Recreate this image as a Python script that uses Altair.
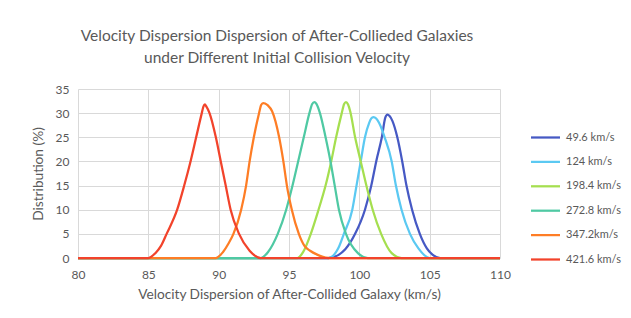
import altair as alt
import pandas as pd

series_names = ["49.6 km/s", "124 km/s", "198.4 km/s", "272.8 km/s", "347.2km/s", "421.6 km/s"]
series_colors = ["#4659c4", "#5bc9f2", "#a5df4f", "#4fc9a3", "#fe7d25", "#f2432b"]

x_496 = [80, 97.8, 98.5, 99.0, 99.7, 100.4, 100.85, 101.2, 101.6, 101.85, 102.0, 102.15, 102.35, 102.7, 103.05, 103.35, 103.75, 104.3, 104.8, 105.2, 105.75, 110]
y_496 = [0, 0, 0.6, 1.8, 5, 10, 15, 20, 25, 29.1, 29.7, 29.4, 28.4, 25, 20, 15, 10, 5, 2, 0.7, 0, 0]

x_124 = [80, 97.8, 98.5, 98.9, 99.5, 99.8, 100.1, 100.4, 100.7, 100.85, 101.0, 101.2, 101.4, 101.8, 102.3, 102.6, 103.0, 103.6, 104.2, 105.0, 110]
y_124 = [0, 0, 2, 5, 10, 15, 20, 25, 28.0, 28.9, 29.2, 28.9, 28.0, 25, 20, 15, 10, 5, 2, 0, 0]

x_1984 = [80, 95.6, 96.0, 96.55, 97.1, 97.6, 98.0, 98.35, 98.75, 98.92, 99.05, 99.2, 99.35, 99.7, 100.1, 100.5, 100.95, 101.55, 102.3, 103.0, 110]
y_1984 = [0, 0, 1.2, 5, 10, 15, 20, 25, 30, 31.9, 32.3, 31.8, 30.4, 25, 20, 15, 10, 5, 1, 0, 0]

x_2728 = [80, 93.0, 93.5, 94.2, 94.8, 95.25, 95.65, 96.05, 96.45, 96.65, 96.8, 96.95, 97.2, 97.6, 97.95, 98.25, 98.55, 99.05, 99.9, 100.6, 110]
y_2728 = [0, 0, 1.2, 5, 10, 15, 20, 25, 30, 31.9, 32.3, 31.9, 30, 25, 20, 15, 10, 5, 1, 0, 0]

x_3472 = [80, 89.8, 90.3, 90.7, 91.05, 91.6, 91.95, 92.2, 92.5, 92.87, 93.02, 93.16, 93.3, 93.5, 93.8, 94.3, 94.6, 94.85, 95.2, 95.7, 96.1, 96.5, 97.0, 97.6, 98.0, 110]
y_3472 = [0, 0, 1.2, 3, 5, 10, 15, 20, 25, 30, 31.7, 32.1, 32.0, 31.6, 30.4, 25, 20, 15, 10, 5, 2.5, 1.5, 0.7, 0.1, 0, 0]

x_4216 = [80, 85.0, 85.5, 85.9, 86.3, 87.05, 87.55, 88.0, 88.4, 88.8, 88.92, 89.02, 89.12, 89.35, 89.8, 90.15, 90.5, 90.85, 91.45, 92.2, 93.0, 110]
y_4216 = [0, 0, 1, 2.5, 5, 10, 15, 20, 25, 30, 31.4, 31.8, 31.4, 30, 25, 20, 15, 10, 5, 1.5, 0, 0]

all_x = [x_496, x_124, x_1984, x_2728, x_3472, x_4216]
all_y = [y_496, y_124, y_1984, y_2728, y_3472, y_4216]

rows = []
for i, (name, xs, ys) in enumerate(zip(series_names, all_x, all_y)):
    for j, (xv, yv) in enumerate(zip(xs, ys)):
        rows.append({"series": name, "order": i, "idx": j, "x": xv, "y": yv})
df = pd.DataFrame(rows)

x_ticks = [80, 85, 90, 95, 100, 105, 110]
y_ticks = [0, 5, 10, 15, 20, 25, 30, 35]

FONT = "Lato"
GRAY = "#595959"

chart = alt.Chart(df).mark_line(strokeWidth=2.25, interpolate="monotone").encode(
    x=alt.X("x:Q", scale=alt.Scale(domain=[80, 110], nice=False, zero=False),
            axis=alt.Axis(values=x_ticks, title="Velocity Dispersion of After-Collided Galaxy (km/s)",
                          ticks=False, domain=False, labelPadding=11, titlePadding=7,
                          gridColor="#d9d9d9", labelFlush=False)),
    y=alt.Y("y:Q", scale=alt.Scale(domain=[0, 35], nice=False),
            axis=alt.Axis(values=y_ticks, title="Distribution (%)", ticks=False, domain=False,
                          labelPadding=9, titlePadding=10, gridColor="#d9d9d9")),
    color=alt.Color("series:N", scale=alt.Scale(domain=series_names, range=series_colors),
                    legend=alt.Legend(title=None, orient="none", legendX=459, legendY=40,
                                      symbolType="M-2,0L2,0", symbolSize=210.25,
                                      symbolStrokeWidth=2.25, labelOffset=12, rowPadding=10.4,
                                      labelFontSize=11, labelFont=FONT, labelColor=GRAY)),
    detail="order:O",
    order="idx:Q",
).properties(
    width=422,
    height=169,
    title=alt.TitleParams(
        text=["Velocity Dispersion Dispersion of After-Collieded Galaxies",
              "under Different Initial Collision Velocity"],
        font=FONT, fontSize=15.5, fontWeight="normal", color=GRAY, lineHeight=22,
        anchor="middle", dx=-12, offset=17),
    autosize=alt.AutoSizeParams(type="none"),
    padding={"left": 70, "top": 81, "right": 123, "bottom": 45},
).configure_view(stroke=None).configure_axis(
    labelFont=FONT, titleFont=FONT, labelFontSize=12, titleFontSize=13.7,
    labelColor=GRAY, titleColor=GRAY, titleFontWeight="normal"
)

chart.save("out.html", embed_options={"renderer": "svg", "actions": False})
